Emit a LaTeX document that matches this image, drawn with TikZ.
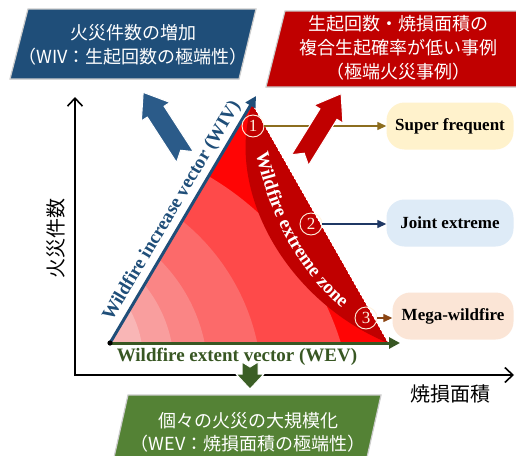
\documentclass[tikz,border=0pt]{standalone}
\usepackage{fontspec}
\setmainfont{Liberation Serif}
\newfontfamily\jp{Noto Sans CJK JP}
\usetikzlibrary{arrows.meta,decorations.text,calc}
\definecolor{wivblue}{HTML}{1F4E79}
\definecolor{barblue}{HTML}{2B5B89}
\definecolor{boxred}{HTML}{C00000}
\definecolor{boxgreen}{HTML}{548235}
\definecolor{wevgreen}{HTML}{385723}
\definecolor{bargreen}{HTML}{3B5E25}
\definecolor{bandA}{HTML}{F9B6B6}
\definecolor{bandB}{HTML}{F99E9E}
\definecolor{bandC}{HTML}{FA8585}
\definecolor{bandD}{HTML}{FC6A6A}
\definecolor{bandE}{HTML}{FE4A4A}
\definecolor{bandF}{HTML}{FF0505}
\definecolor{darkband}{HTML}{C00000}
\definecolor{sfill}{HTML}{FFF2CC}
\definecolor{jfill}{HTML}{DEEBF7}
\definecolor{mfill}{HTML}{FBE5D6}
\definecolor{conA}{HTML}{8C6D1F}
\definecolor{conB}{HTML}{1F3864}
\definecolor{conC}{HTML}{8B4513}
\definecolor{numcol}{HTML}{FFF2E0}
\begin{document}
\begin{tikzpicture}[x=1pt,y=-1pt,
  slantbox/.style={draw=white!80!black, line width=1.2pt},
  jptext/.style={font=\jp\fontsize{18}{24}\selectfont, text=white, align=center},
  rbox/.style={rounded corners=18pt, minimum height=47pt, inner sep=0pt, font=\bfseries\fontsize{17}{17}\selectfont},
  numc/.style={circle, draw=numcol, line width=0.9pt, text=numcol, inner sep=0pt, minimum size=22pt, font=\fontsize{17}{17}\selectfont},
  conn/.style={line width=1.3pt, -{Triangle[length=9pt,width=8pt]}},
  barrow/.style={draw=white, line width=1pt},
  axis/.style={line width=1.6pt}
]
\clip (0,0) rectangle (516,455);
\fill[white] (0,0) rectangle (516,455);

% ---------- coordinates ----------
\coordinate (O) at (110,343);
\coordinate (T) at (252,104);
\coordinate (R) at (388,343);

% ---------- axes ----------
\coordinate (ytop) at (75,97);
\coordinate (corner) at (75,375);
\coordinate (xend) at (514,375);
\draw[axis, {Straight Barb[length=8pt,width=15pt]}-{Straight Barb[length=8pt,width=15pt]}] (ytop) -- (corner) -- (xend);
\node[font=\jp\fontsize{20}{20}\selectfont, rotate=90] (ylab) at (56,238) {火災件数};
\node[font=\jp\fontsize{20}{20}\selectfont] (xlab) at (450,394) {焼損面積};

% ---------- triangle bands ----------
\begin{scope}
  \clip (O) -- (T) -- (R) -- cycle;
  \fill[bandF] (O) -- (T) -- (R) -- cycle;
  \fill[bandE] (60,430) circle (294);
  \fill[bandD] (47,388) circle (215);
  \fill[bandC] (44,376) circle (164);
  \fill[bandB] (42,368) circle (132);
  \fill[bandA] (40,360) circle (103);
  \fill[darkband] (T) -- (R) .. controls (285,300) and (225,190) .. (T) -- cycle;
\end{scope}

% extreme zone text
\path[decorate, decoration={text along path, text align=center,
  text={|\bfseries\fontsize{19}{19}\selectfont\color{white}|Wildfire extreme zone}}]
  (253,138) .. controls (266,210) and (294,272) .. (354,318);

% ---------- vectors ----------
\draw[wivblue, line width=3pt, -{Triangle[length=11pt,width=11pt]}] (O) -- (256,96);
\draw[wevgreen, line width=3pt, -{Triangle[length=11pt,width=11pt]}] (O) -- (400,343);
\fill (O) circle (2.6);
\node[wivblue, font=\bfseries\fontsize{19}{19}\selectfont, rotate=59.3] (wivlab) at (172,211) {Wildfire increase vector (WIV)};
\node[wevgreen, font=\bfseries\fontsize{19}{19}\selectfont] (wevlab) at (237,357) {Wildfire extent vector (WEV)};

% ---------- numbered circles ----------
\node[numc] (n1) at (253,126) {1};
\node[numc] (n2) at (311,224) {2};
\node[numc] (n3) at (366,318) {3};

% ---------- right boxes ----------
\node[rbox, fill=sfill, minimum width=127pt] (sf) at (450,126) {Super frequent};
\node[rbox, fill=jfill, minimum width=127pt] (je) at (450,223) {Joint extreme};
\node[rbox, fill=mfill, minimum width=121pt] (mw) at (453,316) {Mega-wildfire};
\draw[conn, conA] (n1.east) -- (n1.east -| sf.west);
\draw[conn, conB] (n2.east) -- (n2.east -| je.west);
\draw[conn, conC] (n3.east) -- (n3.east -| mw.west);

% ---------- block arrows ----------
\begin{scope}[shift={(185,157)}, rotate=122.9]
  \filldraw[barrow, fill=barblue] (0,-10) -- (54,-10) -- (54,-17) -- (77,0) -- (54,17) -- (54,10) -- (0,10) -- (8,0) -- cycle;
\end{scope}
\begin{scope}[shift={(300,160)}, rotate=58.2]
  \filldraw[barrow, fill=boxred] (0,-10) -- (54,-10) -- (54,-17) -- (78,0) -- (54,17) -- (54,10) -- (0,10) -- (8,0) -- cycle;
\end{scope}
\begin{scope}[shift={(250,362)}, rotate=-90]
  \filldraw[barrow, fill=bargreen] (0,-8) -- (12,-8) -- (12,-14) -- (27,0) -- (12,14) -- (12,8) -- (0,8) -- (5,0) -- cycle;
\end{scope}

% ---------- slanted text boxes ----------
\filldraw[slantbox, fill=wivblue] (28,9) -- (256,9) -- (239,79) -- (10,79) -- cycle;
\node[jptext] (wivbox) at (133,45) {火災件数の増加\\（WIV：生起回数の極端性）};

\filldraw[slantbox, fill=boxred] (285,11) -- (535,11) -- (517,87) -- (266,87) -- cycle;
\node[jptext] (redbox) at (398,48) {生起回数・焼損面積の\\複合生起確率が低い事例\\（極端火災事例）};

\filldraw[slantbox, fill=boxgreen] (128,395) -- (381,395) -- (366,462) -- (113,462) -- cycle;
\node[jptext, font=\jp\fontsize{18}{23}\selectfont] (wevbox) at (248,432) {個々の火災の大規模化\\（WEV：焼損面積の極端性）};
\end{tikzpicture}
\end{document}
